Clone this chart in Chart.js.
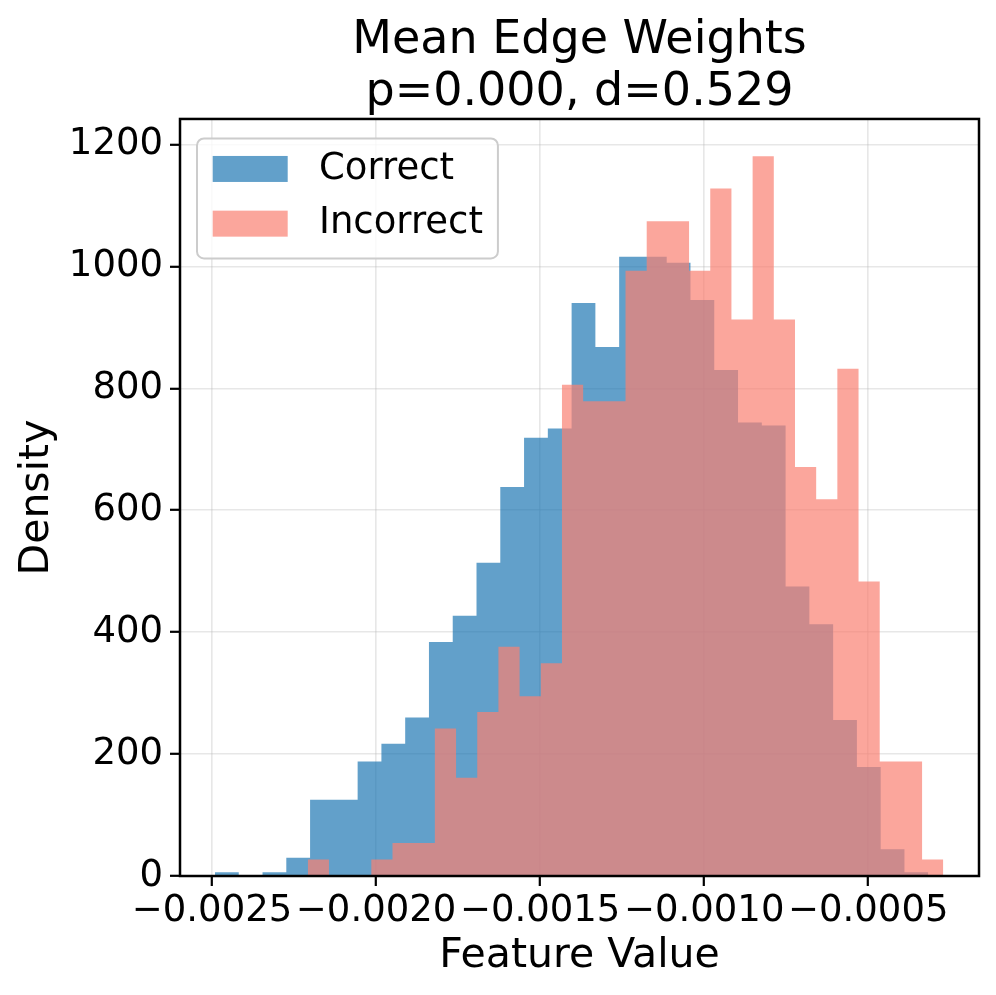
<!DOCTYPE html>
<html>
<head>
    <title>Mean Edge Weights</title>
    <script src="https://cdn.jsdelivr.net/npm/chart.js@4.4.0/dist/chart.umd.min.js"></script>
    <style>
        body {
            margin: 0;
            padding: 0;
            overflow: hidden;
            background-color: #fff;
        }
    </style>
</head>
<body>
<canvas id="myChart" width="996" height="995"></canvas>
<script>
    // Histogram bins (density)
    const correctStart = -0.002491;
    const correctWidth = 0.00007246;
    const correctValues = [6, 0, 6, 30, 125, 125, 188, 217, 260, 384, 427, 514, 638, 719, 734, 940, 868, 1016, 1016, 1006,
        945, 830, 744, 739, 475, 413, 256, 179, 44, 6];

    const incorrectStart = -0.0022082;
    const incorrectWidth = 0.00006456;
    const incorrectValues = [27, 0, 0, 27, 54, 54, 242, 161, 269, 376, 295, 349, 806, 779, 779, 993, 1074, 1074, 993, 1128,
        913, 1181, 913, 671, 618, 832, 483, 188, 188, 27];

    const xRange = [-0.0025976, -0.0001625];
    const yRange = [0, 1242];
    const xTicks = [-0.0025, -0.0020, -0.0015, -0.0010, -0.0005];
    const xTickLabels = ['\u22120.0025', '\u22120.0020', '\u22120.0015', '\u22120.0010', '\u22120.0005'];
    const yTicks = [0, 200, 400, 600, 800, 1000, 1200];
    const yTickLabels = ['0', '200', '400', '600', '800', '1000', '1200'];

    const FONT = 'DejaVu Sans';

    // stepped outline of a histogram: left edge of every bin + closing edge
    function histPoints(start, width, values) {
        const pts = [{x: start, y: 0}];
        values.forEach((v, i) => pts.push({x: start + i * width, y: v}));
        const end = start + values.length * width;
        pts.push({x: end, y: values[values.length - 1]});
        pts.push({x: end, y: 0});
        return pts;
    }

    // frame (all four spines) + legend inside the axes, like matplotlib
    const axesExtras = {
        id: 'axesExtras',
        afterDatasetsDraw(chart) {
            const {ctx, chartArea} = chart;
            ctx.save();
            ctx.strokeStyle = '#000';
            ctx.lineWidth = 2.5;
            ctx.strokeRect(chartArea.left, chartArea.top, chartArea.right - chartArea.left, chartArea.bottom - chartArea.top);

            ctx.font = '37px "' + FONT + '"';
            const sets = chart.data.datasets;
            const textW = Math.max(...sets.map(d => ctx.measureText(d.label).width));
            const x0 = chartArea.left + 17;
            const y0 = chartArea.top + 19.5;
            const w = 122 + textW + 15;
            const h = 120;
            ctx.beginPath();
            ctx.roundRect(x0, y0, w, h, 7);
            ctx.fillStyle = 'rgba(255,255,255,0.8)';
            ctx.fill();
            ctx.strokeStyle = 'rgba(204,204,204,1)';
            ctx.lineWidth = 2;
            ctx.stroke();
            sets.forEach((d, i) => {
                const cy = y0 + 30.5 + i * 54.7;
                ctx.fillStyle = d.backgroundColor;
                ctx.fillRect(x0 + 15.7, cy - 13, 75, 26);
                ctx.fillStyle = '#000';
                ctx.textAlign = 'left';
                ctx.textBaseline = 'middle';
                ctx.fillText(d.label, x0 + 122, cy);
            });
            ctx.restore();
        }
    };

    const ctx = document.getElementById('myChart').getContext('2d');
    new Chart(ctx, {
        type: 'line',
        data: {
            datasets: [{
                label: 'Correct',
                data: histPoints(correctStart, correctWidth, correctValues),
                backgroundColor: 'rgba(31,119,180,0.7)',
                borderColor: 'rgba(0,0,0,0)',
                borderWidth: 0,
                pointRadius: 0,
                stepped: 'before',
                fill: 'origin',
                order: 1
            }, {
                label: 'Incorrect',
                data: histPoints(incorrectStart, incorrectWidth, incorrectValues),
                backgroundColor: 'rgba(250,128,114,0.7)',
                borderColor: 'rgba(0,0,0,0)',
                borderWidth: 0,
                pointRadius: 0,
                stepped: 'before',
                fill: 'origin',
                order: 0
            }]
        },
        options: {
            responsive: false,
            animation: false,
            layout: {padding: {left: 0, right: 17, top: 0, bottom: 0}},
            plugins: {
                legend: {display: false},
                tooltip: {enabled: false},
                title: {
                    display: true,
                    fullSize: false,
                    text: ['Mean Edge Weights', 'p=0.000, d=0.529'],
                    color: '#000',
                    font: {family: FONT, size: 46, weight: 'normal', lineHeight: 1.13},
                    padding: {top: 15, bottom: 0}
                }
            },
            scales: {
                x: {
                    type: 'linear',
                    min: xRange[0],
                    max: xRange[1],
                    afterFit(s) { s.height = 119; },
                    afterBuildTicks(s) { s.ticks = xTicks.map(v => ({value: v})); },
                    ticks: {
                        callback: (v, i) => xTickLabels[i],
                        autoSkip: false,
                        maxRotation: 0,
                        minRotation: 0,
                        color: '#000',
                        padding: 3,
                        font: {family: FONT, size: 37}
                    },
                    grid: {color: 'rgba(176,176,176,0.3)', lineWidth: 1.6, tickColor: '#000', tickLength: 10, tickWidth: 2.2},
                    border: {display: false},
                    title: {
                        display: true,
                        text: 'Feature Value',
                        color: '#000',
                        font: {family: FONT, size: 41},
                        padding: {top: 0, bottom: 14}
                    }
                },
                y: {
                    min: yRange[0],
                    max: yRange[1],
                    afterFit(s) { s.width = 180; },
                    afterBuildTicks(s) { s.ticks = yTicks.map(v => ({value: v})); },
                    ticks: {
                        callback: (v, i) => yTickLabels[i],
                        color: '#000',
                        padding: 7,
                        font: {family: FONT, size: 37}
                    },
                    grid: {color: 'rgba(176,176,176,0.3)', lineWidth: 1.6, tickColor: '#000', tickLength: 10, tickWidth: 2.2},
                    border: {display: false},
                    title: {
                        display: true,
                        text: 'Density',
                        color: '#000',
                        font: {family: FONT, size: 41},
                        padding: {top: 13, bottom: 0}
                    }
                }
            }
        },
        plugins: [axesExtras]
    });
</script>
</body>
</html>
